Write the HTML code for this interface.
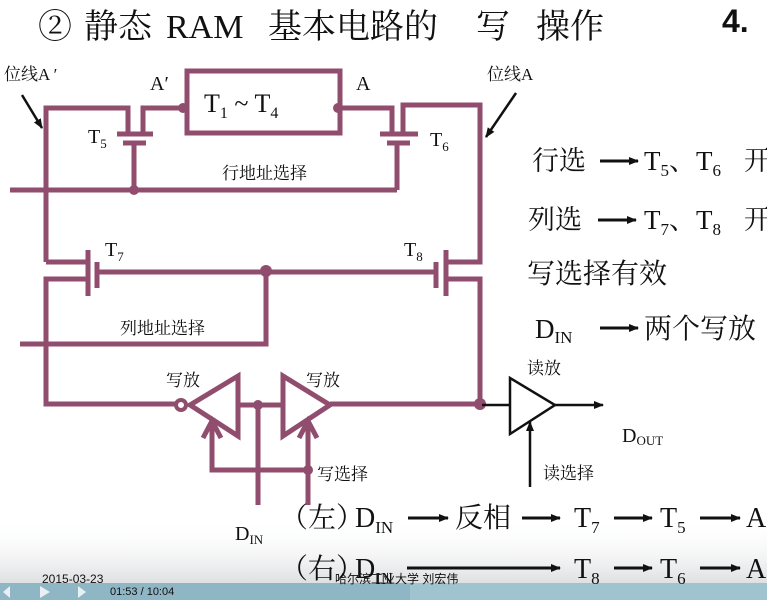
<!DOCTYPE html>
<html><head><meta charset="utf-8"><style>
html,body{margin:0;padding:0;width:767px;height:600px;overflow:hidden;background:#fff}
svg{display:block}
text{font-family:"Liberation Serif","Noto Serif CJK SC","Noto Sans CJK SC",serif;fill:#111}
</style></head><body>
<svg width="767" height="600" viewBox="0 0 767 600" xmlns="http://www.w3.org/2000/svg">
<defs>
<linearGradient id="bg" x1="0" y1="0" x2="0" y2="1">
<stop offset="0" stop-color="#fff" stop-opacity="0"/><stop offset="1" stop-color="#c9ccd0"/>
</linearGradient>
<marker id="ah" markerWidth="10" markerHeight="10" refX="9" refY="5" orient="auto" markerUnits="userSpaceOnUse">
<path d="M0,1 L10,5 L0,9 Z" fill="#111"/></marker>
</defs>
<rect x="0" y="520" width="767" height="80" fill="url(#bg)"/>
<rect x="0" y="583" width="767" height="17" fill="#9fc3cf"/>
<rect x="0" y="583" width="410" height="17" fill="#8fb6c4"/>
<g font-size="34">
<text x="38" y="38">②</text>
<text x="84" y="38">静态</text>
<text x="166" y="38">RAM</text>
<text x="268" y="38">基本电路的</text>
<text x="476" y="38" fill="#2240c0">写</text>
<text x="536" y="38">操作</text>
</g>
<text x="722" y="32" font-size="32" font-weight="bold" fill="#444" style="font-family:'Liberation Sans',sans-serif">4.</text>

<g fill="none" stroke="#914d6e" stroke-width="5" stroke-linejoin="miter">
<rect x="187" y="71" width="153" height="62"/>
<polyline points="46,262 46,108 128,108 128,134"/>
<line x1="117" y1="134" x2="153" y2="134"/>
<line x1="123" y1="143" x2="146" y2="143"/>
<polyline points="143,134 143,108 183,108"/>
<line x1="134" y1="143" x2="134" y2="190"/>
<polyline points="340,108 392,108 392,134"/>
<line x1="380" y1="134" x2="418" y2="134"/>
<line x1="387" y1="143" x2="410" y2="143"/>
<polyline points="403,134 403,105 480,105 480,262 446,262"/>
<line x1="397" y1="143" x2="397" y2="190"/>
<polyline points="10,190 397,190"/>
<line x1="46" y1="262" x2="88" y2="262"/>
<line x1="88" y1="250" x2="88" y2="296"/>
<line x1="97" y1="262" x2="97" y2="288"/>
<polyline points="88,279 46,279 46,404 176,404"/>
<line x1="97" y1="272" x2="436" y2="272"/>
<polyline points="20,344 266,344 266,270"/>
<line x1="436" y1="262" x2="436" y2="288"/>
<line x1="446" y1="250" x2="446" y2="296"/>
<polyline points="446,279 480,279 480,404 330,404"/>
<polygon points="190,405 238,376 238,436"/>
<polygon points="330,405 283,376 283,436"/>
<line x1="238" y1="405" x2="283" y2="405"/>
<line x1="258" y1="405" x2="258" y2="505"/>
<polyline points="212,424 212,470 308,470"/>
<line x1="308" y1="424" x2="308" y2="505"/>
<polyline points="203,438 212,421 221,438"/>
<polyline points="299,438 308,421 317,438"/>
</g>
<g fill="#914d6e">
<circle cx="183" cy="108" r="5"/><circle cx="338" cy="108" r="5"/>
<circle cx="134" cy="190" r="5"/><circle cx="266" cy="271" r="6"/>
<circle cx="258" cy="405" r="5"/><circle cx="308" cy="470" r="5"/>
<circle cx="480" cy="404" r="6"/>
</g>
<circle cx="181" cy="405" r="5" fill="#fff" stroke="#914d6e" stroke-width="4"/>

<g stroke="#111" stroke-width="2.5" fill="none">
<line x1="482" y1="405" x2="510" y2="405"/>
<polygon points="510,378 510,434 555,405"/>
<line x1="555" y1="405" x2="603" y2="405" marker-end="url(#ah)"/>
<line x1="530" y1="487" x2="530" y2="422" marker-end="url(#ah)"/>
<line x1="22" y1="95" x2="42" y2="128" marker-end="url(#ah)"/>
<line x1="516" y1="93" x2="486" y2="137" marker-end="url(#ah)"/>
</g>

<g font-size="17">
<text x="4" y="80">位线A ′</text>
<text x="487" y="80">位线A</text>
<text x="222" y="179">行地址选择</text>
<text x="120" y="334">列地址选择</text>
<text x="166" y="386">写放</text>
<text x="306" y="386">写放</text>
<text x="527" y="374">读放</text>
<text x="317" y="480">写选择</text>
<text x="543" y="479">读选择</text>
</g>
<g font-size="20">
<text x="150" y="90">A′</text>
<text x="356" y="90">A</text>
<text x="88" y="143">T<tspan font-size="13" dy="5">5</tspan></text>
<text x="430" y="146">T<tspan font-size="13" dy="5">6</tspan></text>
<text x="105" y="256">T<tspan font-size="13" dy="5">7</tspan></text>
<text x="404" y="256">T<tspan font-size="13" dy="5">8</tspan></text>
<text x="622" y="442">D<tspan font-size="13" dy="3">OUT</tspan></text>
<text x="235" y="540">D<tspan font-size="13" dy="4">IN</tspan></text>
</g>
<text x="204" y="112" font-size="26" fill="#2240c0">T<tspan font-size="16" dy="6">1</tspan><tspan dy="-6">  ~  T</tspan><tspan font-size="16" dy="6">4</tspan></text>

<g font-size="27">
<text x="532" y="170">行选</text>
<text x="644" y="170">T<tspan font-size="17" dy="6">5</tspan><tspan dy="-6">、T</tspan><tspan font-size="17" dy="6">6</tspan></text>
<text x="744" y="170">开</text>
<text x="528" y="229">列选</text>
<text x="644" y="229">T<tspan font-size="17" dy="6">7</tspan><tspan dy="-6">、T</tspan><tspan font-size="17" dy="6">8</tspan></text>
<text x="744" y="229">开</text>
<text x="527" y="283" font-size="28">写选择有效</text>
<text x="535" y="338">D<tspan font-size="17" dy="5">IN</tspan></text>
<text x="644" y="338" font-size="28">两个写放</text>
</g>
<g stroke="#111" stroke-width="3" fill="none">
<line x1="600" y1="161" x2="638" y2="161" marker-end="url(#ah)"/>
<line x1="598" y1="220" x2="636" y2="220" marker-end="url(#ah)"/>
<line x1="600" y1="328" x2="638" y2="328" marker-end="url(#ah)"/>
<line x1="408" y1="518" x2="448" y2="518" marker-end="url(#ah)"/>
<line x1="522" y1="518" x2="560" y2="518" marker-end="url(#ah)"/>
<line x1="614" y1="518" x2="652" y2="518" marker-end="url(#ah)"/>
<line x1="700" y1="518" x2="740" y2="518" marker-end="url(#ah)"/>
<line x1="407" y1="568" x2="560" y2="568" marker-end="url(#ah)"/>
<line x1="614" y1="568" x2="652" y2="568" marker-end="url(#ah)"/>
<line x1="700" y1="568" x2="740" y2="568" marker-end="url(#ah)"/>
</g>
<g font-size="28">
<text x="280" y="527">（左）</text>
<text x="355" y="527">D<tspan font-size="17" dy="6">IN</tspan></text>
<text x="455" y="527">反相</text>
<text x="574" y="527">T<tspan font-size="17" dy="6">7</tspan></text>
<text x="660" y="527">T<tspan font-size="17" dy="6">5</tspan></text>
<text x="746" y="527">A</text>
<text x="280" y="578">（右）</text>
<text x="355" y="578">D<tspan font-size="17" dy="6">IN</tspan></text>
<text x="574" y="578">T<tspan font-size="17" dy="6">8</tspan></text>
<text x="660" y="578">T<tspan font-size="17" dy="6">6</tspan></text>
<text x="746" y="578">A</text>
</g>
<text x="42" y="583" font-size="12" fill="#888" style="font-family:'Liberation Sans',sans-serif">2015-03-23</text>
<text x="110" y="595" font-size="11" fill="#eef" style="font-family:'Liberation Sans',sans-serif">01:53 / 10:04</text>
<text x="335" y="583" font-size="12" fill="#888" style="font-family:'Liberation Sans','Noto Sans CJK SC',sans-serif">哈尔滨工业大学 刘宏伟</text>
<polygon points="40,586 40,598 50,592" fill="#e8f0f4"/>
<polygon points="10,586 10,598 3,592" fill="#e8f0f4"/>
<polygon points="78,586 78,598 86,592" fill="#e8f0f4"/>
</svg>
</body></html>
